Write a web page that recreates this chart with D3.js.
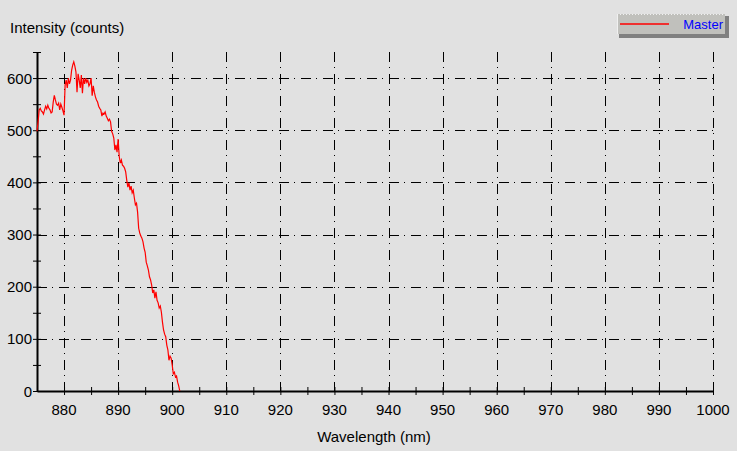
<!DOCTYPE html>
<html>
<head>
<meta charset="utf-8">
<title>Intensity vs Wavelength</title>
<script src="https://d3js.org/d3.v7.min.js"></script>
<style>
  body { margin: 0; background: #e1e1e1; }
  text { font-family: 'Liberation Sans', Arial, sans-serif; fill: #000; }
</style>
</head>
<body>
<div id="my_dataviz"></div>
<script>
// spectrum, 0.2 nm steps
var wavelength = [875.0,875.2,875.4,875.6,875.8,876.0,876.2,876.4,876.6,876.8,
  877.0,877.2,877.4,877.6,877.8,878.0,878.2,878.4,878.6,878.8,
  879.0,879.2,879.4,879.6,879.8,880.0,880.2,880.4,880.6,880.8,
  881.0,881.2,881.4,881.6,881.8,882.0,882.2,882.4,882.6,882.8,
  883.0,883.2,883.4,883.6,883.8,884.0,884.2,884.4,884.6,884.8,
  885.0,885.2,885.4,885.6,885.8,886.0,886.2,886.4,886.6,886.8,
  887.0,887.2,887.4,887.6,887.8,888.0,888.2,888.4,888.6,888.8,
  889.0,889.2,889.4,889.6,889.8,890.0,890.2,890.4,890.6,890.8,
  891.0,891.2,891.4,891.6,891.8,892.0,892.2,892.4,892.6,892.8,
  893.0,893.2,893.4,893.6,893.8,894.0,894.2,894.4,894.6,894.8,
  895.0,895.2,895.4,895.6,895.8,896.0,896.2,896.4,896.6,896.8,
  897.0,897.2,897.4,897.6,897.8,898.0,898.2,898.4,898.6,898.8,
  899.0,899.2,899.4,899.6,899.8,900.0,900.2,900.4,900.6,900.8,
  901.0,901.2,901.4];
var intensity = [498,516,539,542,537,535,531,539,546,541,
  548,542,539,533,535,554,567,558,550,548,
  552,539,550,544,537,529,587,596,581,600,
  589,596,615,625,631,623,612,573,608,596,
  581,606,571,600,589,600,592,596,585,589,
  600,566,585,573,564,558,554,546,542,539,
  527,533,531,535,527,523,518,521,516,498,
  493,485,462,472,458,483,450,437,443,433,
  431,427,420,404,391,399,385,393,380,385,
  370,357,360,343,312,303,297,293,286,274,
  266,247,240,232,219,213,203,188,194,178,
  190,174,169,159,163,151,132,117,109,104,
  88,79,59,67,63,50,33,36,27,29,
  17,10,0];

var xTicks = [880,890,900,910,920,930,940,950,960,970,980,990,1000];
var yTicks = [0,100,200,300,400,500,600];
var seriesName = "Master";

var W = 737, H = 451;
var plotLeft = 37, plotRight = 713, plotTop = 52, plotBottom = 391;

var svg = d3.select("#my_dataviz").append("svg")
  .attr("width", W).attr("height", H);

svg.append("rect").attr("width", W).attr("height", H).attr("fill", "#e1e1e1");

var x = d3.scaleLinear().domain([875, 1000]).range([plotLeft, plotRight]);
var y = d3.scaleLinear().domain([0, 650]).range([plotBottom, plotTop]);

// dash-dot grid
var grid = svg.append("g")
  .attr("stroke", "#000").attr("stroke-width", 1)
  .attr("stroke-dasharray", "10,5,1,6").attr("shape-rendering", "crispEdges");
grid.selectAll("line.v").data(xTicks).enter().append("line")
  .attr("x1", function(d) { return Math.round(x(d)) + 0.5; })
  .attr("x2", function(d) { return Math.round(x(d)) + 0.5; })
  .attr("y1", plotTop).attr("y2", plotBottom);
grid.selectAll("line.h").data(yTicks.slice(1)).enter().append("line")
  .attr("y1", function(d) { return Math.round(y(d)) + 0.5; })
  .attr("y2", function(d) { return Math.round(y(d)) + 0.5; })
  .attr("x1", plotLeft).attr("x2", plotRight);

// axes
var xAxis = svg.append("g").attr("transform", "translate(0," + plotBottom + ")")
  .call(d3.axisBottom(x).ticks(25).tickSizeInner(4).tickSizeOuter(0).tickFormat(""));
xAxis.selectAll(".tick line").attr("y1", -4);
xAxis.selectAll(".tick").filter(function(d) { return d === 875; }).remove();
xAxis.select(".domain").attr("stroke-width", 2);

var yAxis = svg.append("g").attr("transform", "translate(" + plotLeft + ",0)")
  .call(d3.axisLeft(y).ticks(13).tickSizeInner(4).tickSizeOuter(0).tickFormat(""));
yAxis.selectAll(".tick line").attr("x1", 4).attr("x2", -4);
yAxis.select(".domain").attr("stroke-width", 2);

// tick labels
svg.selectAll("text.xl").data(xTicks).enter().append("text")
  .attr("x", function(d) { return x(d); })
  .attr("y", 415)
  .attr("text-anchor", "middle")
  .style("font-size", "15px")
  .text(function(d) { return d; });
svg.selectAll("text.yl").data(yTicks).enter().append("text")
  .attr("x", 32)
  .attr("y", function(d) { return y(d) + 5.5; })
  .attr("text-anchor", "end")
  .style("font-size", "15px")
  .text(function(d) { return d; });

// axis titles
svg.append("text").attr("x", 10).attr("y", 33)
  .style("font-size", "15px").text("Intensity (counts)");
svg.append("text").attr("x", 374).attr("y", 442).attr("text-anchor", "middle")
  .style("font-size", "15px").text("Wavelength (nm)");

// the spectrum
var line = d3.line()
  .x(function(d, i) { return x(wavelength[i]); })
  .y(function(d) { return y(d); });
svg.append("path").datum(intensity)
  .attr("d", line)
  .attr("fill", "none")
  .attr("stroke", "#ff0000")
  .attr("stroke-width", 1.2);

// legend box
var lg = svg.append("g").attr("transform", "translate(617,14)");
lg.append("rect").attr("x", 2).attr("y", 2).attr("width", 110).attr("height", 22).attr("fill", "#808080");
lg.append("rect").attr("width", 108).attr("height", 20).attr("fill", "#c0c0bc");
lg.append("line").attr("x1", 0).attr("x2", 108).attr("y1", 0.5).attr("y2", 0.5)
  .attr("stroke", "#f0f0f0").attr("stroke-dasharray", "1,2");
lg.append("line").attr("x1", 0.5).attr("x2", 0.5).attr("y1", 0).attr("y2", 20)
  .attr("stroke", "#f0f0f0");
lg.append("line").attr("x1", 3).attr("x2", 52).attr("y1", 10).attr("y2", 10)
  .attr("stroke", "#ff0000").attr("stroke-width", 1.3);
lg.append("text").attr("x", 106).attr("y", 15).attr("text-anchor", "end")
  .style("font-size", "13px").style("fill", "#0000ff").text(seriesName);
</script>
</body>
</html>
